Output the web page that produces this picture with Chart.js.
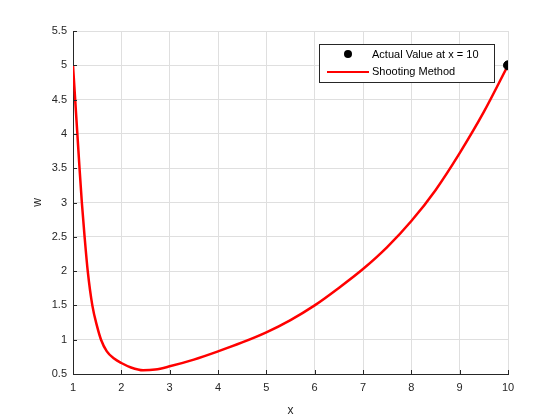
<!DOCTYPE html>
<html>
<head>
<meta charset="utf-8">
<script src="https://cdn.jsdelivr.net/npm/chart.js@4/dist/chart.umd.min.js"></script>
<style>
html,body{margin:0;padding:0;background:#fff;}
#wrap{width:560px;height:420px;position:relative;}
</style>
</head>
<body>
<div id="wrap"><canvas id="c" width="560" height="420"></canvas></div>
<script>
// Data
const xValues = [1, 1.045, 1.09, 1.135, 1.183, 1.24, 1.305, 1.40, 1.5, 1.58, 1.7, 1.85, 2, 2.2, 2.45, 2.7, 3, 3.5, 4, 4.5, 5, 5.5, 6, 6.5, 7, 7.5, 8, 8.5, 9, 9.5, 10];
const wValues = [5, 4.5, 4, 3.5, 3.0, 2.5, 2.0, 1.5, 1.19, 1.0, 0.83, 0.725, 0.66, 0.595, 0.555, 0.565, 0.612, 0.71, 0.83, 0.96, 1.107, 1.286, 1.5, 1.755, 2.03, 2.35, 2.73, 3.18, 3.72, 4.32, 5.0];
const actualX = [10];
const actualW = [5];
const legendLabels = ['Actual Value at x = 10', 'Shooting Method'];
const xTitle = 'x';
const yTitle = 'w';

const curve = xValues.map((x, i) => ({x: x, y: wValues[i]}));
const actual = actualX.map((x, i) => ({x: x, y: actualW[i]}));

const FONT = '"Liberation Sans", Arial, Helvetica, sans-serif';
const AXIS = '#262626';

const inwardTicks = {
  id: 'inwardTicks',
  afterDraw(chart) {
    const ctx = chart.ctx, xs = chart.scales.x, ys = chart.scales.y, a = chart.chartArea;
    ctx.save();
    ctx.strokeStyle = AXIS;
    ctx.lineWidth = 1;
    ctx.beginPath();
    xs.ticks.forEach(t => {
      const px = Math.round(xs.getPixelForValue(t.value)) + 0.5;
      ctx.moveTo(px, a.bottom); ctx.lineTo(px, a.bottom - 4);
    });
    ys.ticks.forEach(t => {
      const py = Math.round(ys.getPixelForValue(t.value)) + 0.5;
      ctx.moveTo(a.left, py); ctx.lineTo(a.left + 4, py);
    });
    ctx.stroke();
    ctx.restore();
  }
};

const boxLegend = {
  id: 'boxLegend',
  afterDraw(chart) {
    const ctx = chart.ctx;
    const L = 319.5, T = 44.5, W = 175, H = 38;
    ctx.save();
    ctx.fillStyle = '#fff';
    ctx.fillRect(L, T, W, H);
    ctx.strokeStyle = AXIS;
    ctx.lineWidth = 1;
    ctx.strokeRect(L, T, W, H);
    ctx.font = '11px ' + FONT;
    ctx.fillStyle = '#000';
    ctx.textBaseline = 'middle';
    ctx.beginPath();
    ctx.arc(348, 54, 4, 0, Math.PI * 2);
    ctx.fill();
    ctx.fillText(legendLabels[0], 372, 55);
    ctx.strokeStyle = '#ff0000';
    ctx.lineWidth = 2;
    ctx.beginPath();
    ctx.moveTo(327, 72); ctx.lineTo(369, 72);
    ctx.stroke();
    ctx.fillStyle = '#000';
    ctx.fillText(legendLabels[1], 372, 72);
    ctx.restore();
  }
};

new Chart(document.getElementById('c'), {
  type: 'scatter',
  data: {
    datasets: [
      {
        label: legendLabels[1],
        data: curve,
        showLine: true,
        borderColor: '#ff0000',
        borderWidth: 2.5,
        pointRadius: 0,
        cubicInterpolationMode: 'monotone',
        order: 2
      },
      {
        label: legendLabels[0],
        data: actual,
        backgroundColor: '#000',
        borderColor: '#000',
        pointRadius: 4.5,
        order: 1
      }
    ]
  },
  options: {
    responsive: false,
    animation: false,
    layout: {padding: {top: 31, right: 52, left: 28, bottom: 2}},
    plugins: {legend: {display: false}, tooltip: {enabled: false}},
    scales: {
      x: {
        type: 'linear', min: 1, max: 10,
        afterFit(s) { s.height = 44; },
        ticks: {stepSize: 1, color: AXIS, font: {family: FONT, size: 11}, padding: 7, maxRotation: 0},
        grid: {color: '#dfdfdf', drawTicks: false},
        border: {color: AXIS, width: 1},
        title: {display: true, text: xTitle, color: AXIS, font: {family: FONT, size: 12}, padding: {top: 0, bottom: 0}}
      },
      y: {
        type: 'linear', min: 0.5, max: 5.5,
        afterFit(s) { s.width = 45; },
        ticks: {stepSize: 0.5, color: AXIS, font: {family: FONT, size: 11}, padding: 6,
          callback: v => String(Math.round(v * 10) / 10)},
        grid: {color: '#dfdfdf', drawTicks: false},
        border: {color: AXIS, width: 1},
        title: {display: true, text: yTitle, color: AXIS, font: {family: FONT, size: 12}, padding: {top: 2, bottom: 0}}
      }
    }
  },
  plugins: [inwardTicks, boxLegend]
});
</script>
</body>
</html>
